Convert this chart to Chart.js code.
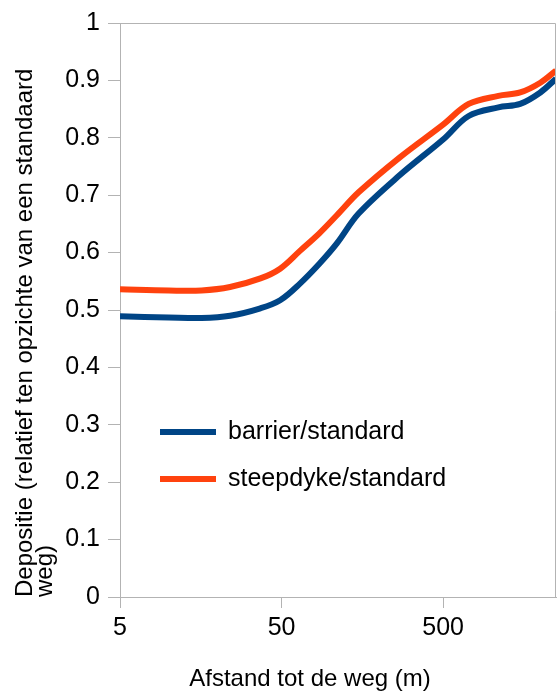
<!DOCTYPE html>
<html lang="nl">
<head>
    <meta charset="UTF-8">
    <title>Depositie</title>
    <script src="https://cdn.jsdelivr.net/npm/chart.js"></script>
    <style>
        html, body { margin: 0; padding: 0; background: #fff; }
        #wrap { width: 557px; height: 691px; }
    </style>
</head>
<body>
    <div id="wrap"><canvas id="depChart" width="557" height="691"></canvas></div>

    <script>
        // afstand tot de weg (m) en depositie relatief t.o.v. standaard
        const distances = [5, 10, 16, 24, 37, 49, 65, 86, 110, 150, 270, 500, 720, 1100, 1500, 2000, 2500];
        const barrierValues = [0.489, 0.487, 0.486, 0.490, 0.503, 0.517, 0.546, 0.581, 0.616, 0.668, 0.735, 0.797, 0.838, 0.853, 0.859, 0.879, 0.903];
        const steepdykeValues = [0.536, 0.534, 0.534, 0.540, 0.555, 0.572, 0.603, 0.634, 0.665, 0.705, 0.766, 0.823, 0.859, 0.873, 0.879, 0.896, 0.917];
        const seriesLabels = ['barrier/standard', 'steepdyke/standard'];
        const xTicks = [5, 50, 500];
        const yTicks = [0, 0.1, 0.2, 0.3, 0.4, 0.5, 0.6, 0.7, 0.8, 0.9, 1];
        const xTitle = 'Afstand tot de weg (m)';
        const yTitle = ['Depositie (relatief ten opzichte van een standaard', 'weg)'];

        const FONT = "'Liberation Sans', Arial, sans-serif";
        const GRAY = '#b3b3b3';

        const toPoints = vals => distances.map((d, i) => ({ x: d, y: vals[i] }));

        // frame round the plot, legend inside the plot, x title
        const framePlugin = {
            id: 'frameAndLegend',
            afterDraw(chart) {
                const { ctx, chartArea: a } = chart;
                ctx.save();
                ctx.strokeStyle = GRAY;
                ctx.lineWidth = 1;
                ctx.beginPath();
                ctx.moveTo(a.left, a.top + 0.5);
                ctx.lineTo(a.right - 0.5, a.top + 0.5);
                ctx.lineTo(a.right - 0.5, a.bottom);
                ctx.stroke();

                const x0 = a.left + 40;
                let y = 432;
                ctx.font = '25px ' + FONT;
                ctx.textBaseline = 'middle';
                ctx.fillStyle = '#000';
                chart.data.datasets.forEach(ds => {
                    ctx.strokeStyle = ds.borderColor;
                    ctx.lineWidth = 6;
                    ctx.beginPath();
                    ctx.moveTo(x0, y);
                    ctx.lineTo(x0 + 56, y);
                    ctx.stroke();
                    ctx.fillText(ds.label, x0 + 68, y);
                    y += 47;
                });

                ctx.font = '24px ' + FONT;
                ctx.textAlign = 'center';
                ctx.fillText(xTitle, 310, 679);
                ctx.restore();
            }
        };

        const ctx = document.getElementById('depChart').getContext('2d');
        new Chart(ctx, {
            type: 'line',
            data: {
                datasets: [
                    {
                        label: seriesLabels[0],
                        data: toPoints(barrierValues),
                        borderColor: '#004586',
                        borderWidth: 6,
                        pointRadius: 0,
                        tension: 0.35
                    },
                    {
                        label: seriesLabels[1],
                        data: toPoints(steepdykeValues),
                        borderColor: '#ff420e',
                        borderWidth: 6,
                        pointRadius: 0,
                        tension: 0.35
                    }
                ]
            },
            options: {
                responsive: false,
                animation: false,
                layout: { padding: { top: 22, right: 1, left: 0, bottom: 0 } },
                plugins: {
                    legend: { display: false },
                    tooltip: { enabled: false }
                },
                scales: {
                    x: {
                        type: 'logarithmic',
                        min: 5,
                        max: 2500,
                        afterBuildTicks: s => { s.ticks = xTicks.map(v => ({ value: v })); },
                        afterFit: s => { s.height = 94; },
                        ticks: {
                            color: '#000',
                            font: { family: FONT, size: 25 },
                            padding: 5,
                            maxRotation: 0,
                            callback: v => String(v)
                        },
                        grid: { color: GRAY, drawOnChartArea: false, tickLength: 11 },
                        border: { color: GRAY }
                    },
                    y: {
                        min: 0,
                        max: 1,
                        afterBuildTicks: s => { s.ticks = yTicks.map(v => ({ value: v })); },
                        afterFit: s => { s.width = 120; },
                        ticks: {
                            color: '#000',
                            font: { family: FONT, size: 25 },
                            padding: 8,
                            callback: v => String(Math.round(v * 10) / 10)
                        },
                        grid: { color: GRAY, drawOnChartArea: false, tickLength: 12 },
                        border: { color: GRAY },
                        title: {
                            display: true,
                            align: 'start',
                            text: yTitle,
                            color: '#000',
                            font: { family: FONT, size: 24, lineHeight: 0.85 },
                            padding: { top: 15, bottom: 0 }
                        }
                    }
                }
            },
            plugins: [framePlugin]
        });
    </script>
</body>
</html>
